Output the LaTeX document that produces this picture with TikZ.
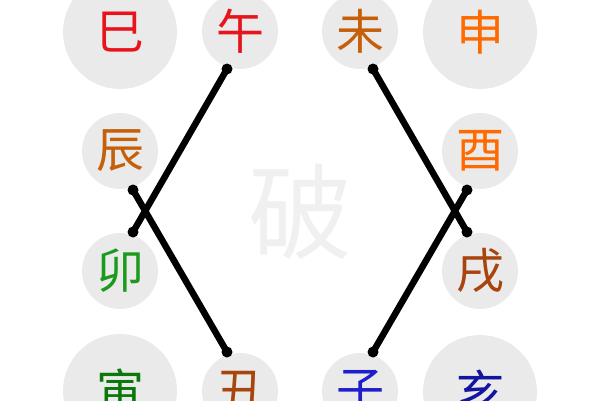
\documentclass[tikz,border=0pt]{standalone}
\usepackage{fontspec}
\newfontfamily\cjk{Noto Sans CJK SC}
\definecolor{bgc}{HTML}{EAEAEA}
\definecolor{pohui}{HTML}{F0F0F0}
\definecolor{cred}{HTML}{E8141C}
\definecolor{corange}{HTML}{FF6A00}
\definecolor{cbrownor}{HTML}{C65F0A}
\definecolor{cbrown}{HTML}{A8450C}
\definecolor{cgreen}{HTML}{1C9A1C}
\definecolor{cdgreen}{HTML}{0A780A}
\definecolor{cblue}{HTML}{1E1ECC}
\definecolor{cdblue}{HTML}{1414A0}
\tikzset{
  big/.style={circle, fill=bgc, minimum size=114pt, inner sep=0pt, font=\cjk\fontsize{48}{48}\selectfont},
  small/.style={circle, fill=bgc, minimum size=76pt, inner sep=0pt, font=\cjk\fontsize{48}{48}\selectfont},
  dotc/.style={circle, fill=black, minimum size=11pt, inner sep=0pt},
  link/.style={line width=6.5pt, black, line cap=round}
}
\begin{document}
\begin{tikzpicture}[x=1pt,y=-1pt]
\useasboundingbox (0,0) rectangle (600,400);
% branches
\node[big, text=cred] (si) at (120,32) {巳};
\node[small, text=cred] (wu) at (240,31) {午};
\node[small, text=cbrownor] (wei) at (360,31) {未};
\node[big, text=corange] (shen) at (480,32) {申};
\node[small, text=cbrownor] (chen) at (120,151) {辰};
\node[small, text=corange] (you) at (480,151) {酉};
\node[small, text=cgreen] (mao) at (120,271) {卯};
\node[small, text=cbrown] (xu) at (480,271) {戌};
\node[big, text=cdgreen] (yin) at (120,391) {寅};
\node[small, text=cbrown] (chou) at (240,391) {丑};
\node[small, text=cblue] (zi) at (360,391) {子};
\node[big, text=cdblue] (hai) at (480,392) {亥};
% centre
\node[text=pohui, font=\cjk\fontsize{104}{104}\selectfont] (po) at (300,212) {破};
% end points
\node[dotc] (a1) at (227,69) {};
\node[dotc] (a2) at (133,232) {};
\node[dotc] (b1) at (133,190) {};
\node[dotc] (b2) at (227,352) {};
\node[dotc] (c1) at (373,69) {};
\node[dotc] (c2) at (467,232) {};
\node[dotc] (d1) at (467,190) {};
\node[dotc] (d2) at (373,352) {};
\draw[link] (a1.center) -- (a2.center);
\draw[link] (b1.center) -- (b2.center);
\draw[link] (c1.center) -- (c2.center);
\draw[link] (d1.center) -- (d2.center);
\end{tikzpicture}
\end{document}
